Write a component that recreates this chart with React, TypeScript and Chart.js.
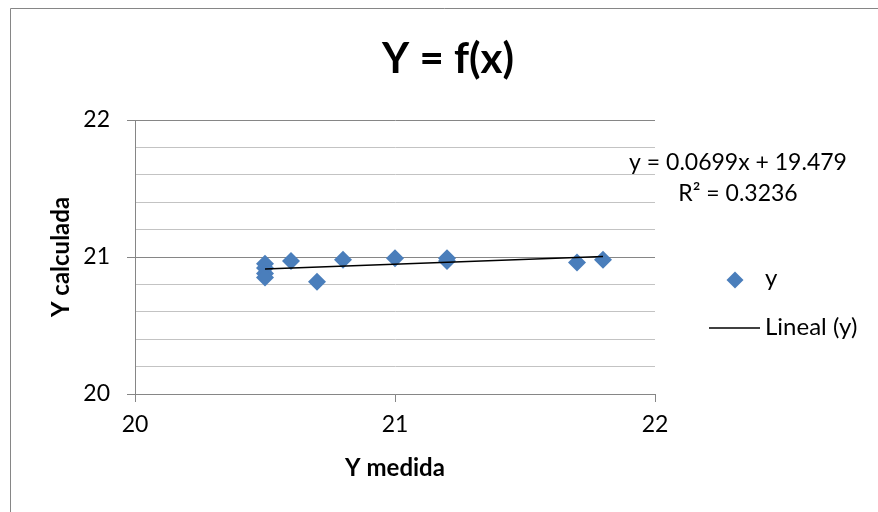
import React, { useEffect, useRef } from "react";
import { Chart, registerables } from "chart.js";

Chart.register(...registerables);

const titleText = "Y = f(x)";
const xAxisTitle = "Y medida";
const yAxisTitle = "Y calculada";
const seriesLabel = "y";
const trendLabel = "Lineal (y)";
const xValues = [20.5, 20.5, 20.5, 20.5, 20.6, 20.7, 20.8, 21.0, 21.2, 21.2, 21.7, 21.8];
const yValues = [20.95, 20.92, 20.88, 20.85, 20.97, 20.82, 20.98, 20.99, 20.99, 20.97, 20.96, 20.98];
const trendSlope = 0.0699;
const trendIntercept = 19.479;
const equationLines = ["y = 0.0699x + 19.479", "R² = 0.3236"];
const xTicks = [20, 21, 22];
const yTickLabels = [20, 21, 22];
const yGridValues = [20, 20.2, 20.4, 20.6, 20.8, 21, 21.2, 21.4, 21.6, 21.8, 22];

const FONT = "Lato, 'Open Sans', sans-serif";
const MARKER = "#4a7ebb";
const AXIS = "#868686";
const MINOR = "#c3c3c3";

export default function App() {
  const ref = useRef<HTMLCanvasElement>(null);

  useEffect(() => {
    if (!ref.current) return;
    const points = xValues.map((x, i) => ({ x, y: yValues[i] }));
    const xMin = Math.min(...xValues);
    const xMax = Math.max(...xValues);
    const trend = [
      { x: xMin, y: trendSlope * xMin + trendIntercept },
      { x: xMax, y: trendSlope * xMax + trendIntercept },
    ];
    const isMajor = (v: number) => yTickLabels.some((t) => Math.abs(v - t) < 1e-6);

    const decor = {
      id: "decor",
      afterDraw(chart: any) {
        const c = chart.ctx;
        c.save();
        c.strokeStyle = AXIS;
        c.lineWidth = 1;
        c.beginPath();
        c.moveTo(10.5, 512);
        c.lineTo(10.5, 8.5);
        c.lineTo(878, 8.5);
        c.stroke();
        c.fillStyle = "#000";
        c.font = `bold 42px ${FONT}`;
        c.textAlign = "center";
        c.textBaseline = "alphabetic";
        c.fillText(titleText, 448, 73);
        c.font = `23px ${FONT}`;
        c.fillText(equationLines[0], 738, 170);
        c.fillText(equationLines[1], 738, 201);
        c.fillStyle = MARKER;
        c.beginPath();
        c.moveTo(735, 271.5);
        c.lineTo(743.5, 280);
        c.lineTo(735, 288.5);
        c.lineTo(726.5, 280);
        c.closePath();
        c.fill();
        c.strokeStyle = "#000";
        c.lineWidth = 1.5;
        c.beginPath();
        c.moveTo(709, 328);
        c.lineTo(760, 328);
        c.stroke();
        c.fillStyle = "#000";
        c.textAlign = "left";
        c.font = `24px ${FONT}`;
        c.fillText(seriesLabel, 765, 286);
        c.fillText(trendLabel, 765, 335);
        c.restore();
      },
    };

    const chart = new Chart(ref.current, {
      type: "scatter",
      data: {
        datasets: [
          {
            type: "line",
            label: trendLabel,
            data: trend,
            borderColor: "#000",
            borderWidth: 1.5,
            pointRadius: 0,
            showLine: true,
            fill: false,
          } as any,
          {
            label: seriesLabel,
            data: points,
            pointStyle: "rectRot",
            pointRadius: 9,
            backgroundColor: MARKER,
            borderColor: MARKER,
            borderWidth: 0,
          },
        ],
      },
      options: {
        responsive: false,
        animation: false,
        layout: { padding: { left: 10, top: 120, right: 223, bottom: 0 } },
        plugins: { legend: { display: false }, title: { display: false }, tooltip: { enabled: false } },
        scales: {
          x: {
            type: "linear",
            min: 20,
            max: 22,
            afterFit: (s: any) => { s.height = 118; },
            afterBuildTicks: (s: any) => { s.ticks = xTicks.map((v) => ({ value: v })); },
            ticks: { font: { family: FONT, size: 23 }, color: "#000", padding: 9, maxRotation: 0, autoSkip: false },
            grid: { drawOnChartArea: false, drawTicks: true, tickLength: 8, tickColor: AXIS, color: AXIS },
            border: { display: true, color: AXIS },
            title: { display: true, text: xAxisTitle, font: { family: FONT, size: 24, weight: "bold" }, color: "#000", padding: { top: 0, bottom: 29 } },
          },
          y: {
            type: "linear",
            min: 20,
            max: 22,
            afterFit: (s: any) => { s.width = 125; },
            afterBuildTicks: (s: any) => { s.ticks = yGridValues.map((v) => ({ value: v })); },
            ticks: {
              autoSkip: false,
              font: { family: FONT, size: 23 },
              color: "#000",
              padding: 17,
              callback: (v: any) => (isMajor(Number(v)) ? String(Math.round(Number(v))) : ""),
            },
            grid: {
              drawOnChartArea: true,
              tickLength: 8,
              color: (ctx: any) => (ctx.tick && isMajor(ctx.tick.value) ? AXIS : MINOR),
              tickColor: (ctx: any) => (ctx.tick && isMajor(ctx.tick.value) ? AXIS : "rgba(0,0,0,0)"),
            },
            border: { display: true, color: AXIS },
            title: { display: true, text: yAxisTitle, font: { family: FONT, size: 24, weight: "bold" }, color: "#000", padding: { top: 37, bottom: 0 } },
          },
        },
      },
      plugins: [decor],
    });
    return () => chart.destroy();
  }, []);

  return (
    <div style={{ position: "absolute", left: 0, top: 0, width: 878, height: 512, background: "#fff" }}>
      <canvas ref={ref} width={878} height={512} />
    </div>
  );
}
